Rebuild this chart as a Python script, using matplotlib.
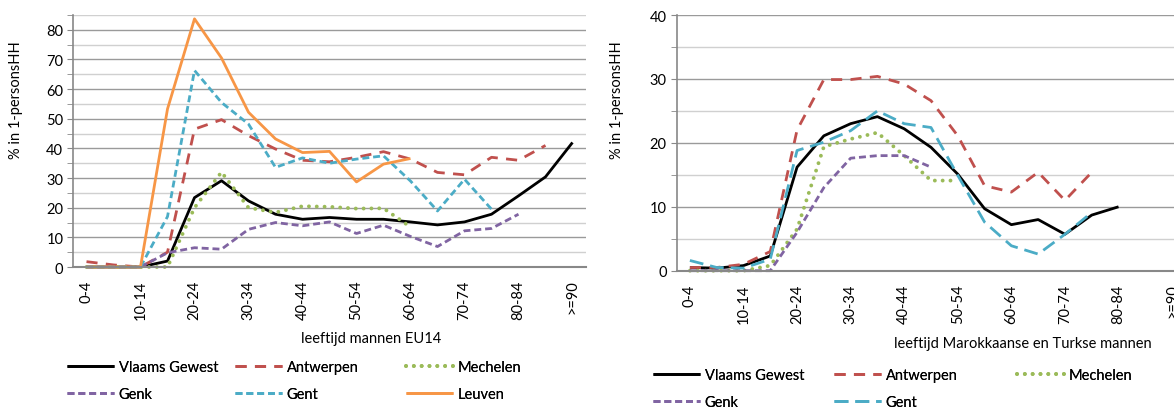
import numpy as np
import matplotlib
matplotlib.use('Agg')
import matplotlib.pyplot as plt
from matplotlib.ticker import MultipleLocator

plt.rcParams['font.family'] = ['Lato', 'DejaVu Sans']

nan = np.nan

AGE_GROUPS = ['0-4', '5-9', '10-14', '15-19', '20-24', '25-29', '30-34',
              '35-39', '40-44', '45-49', '50-54', '55-59', '60-64', '65-69',
              '70-74', '75-79', '80-84', '85-89', '>=90']

# left panel: men EU14
vlaams_eu = [0, 0, 0, 2, 23.4, 29.1, 22.3, 17.8, 16.1, 16.7, 16.1, 16.1, 15.2,
             14.2, 15.2, 17.8, 24, 30.4, 42]
antwerpen_eu = [1.8, 0.7, 0, 5, 46.5, 49.7, 44.3, 39.8, 36, 35.5, 37, 38.9,
                36.4, 31.9, 31.1, 37, 36, 41, nan]
mechelen_eu = [0, 0, 0, 0, 20, 32, 20, 18.4, 20.5, 20.3, 19.7, 19.8, 13.5,
               nan, nan, nan, nan, nan, nan]
genk_eu = [0, 0, 0, 4.8, 6.5, 6, 12.7, 15, 13.9, 15.2, 11.3, 14.1, 10.3, 6.9,
           12.2, 13, 17.8, nan, nan]
gent_eu = [0, 0, 0, 17, 66.3, 55.5, 48.2, 33.6, 36.8, 35, 36.4, 37.5, 29,
           18.9, 29.6, 19.5, nan, nan, nan]
leuven_eu = [0, 0, 0, 53.3, 83.7, 70.5, 52.2, 43.2, 38.6, 39, 28.7, 34.7, 36.6,
             nan, nan, nan, nan, nan, nan]

# right panel: Moroccan and Turkish men
vlaams_mt = [0.5, 0.4, 0.8, 2.3, 16.2, 21.1, 23, 24.1, 22.2, 19.3, 15.1, 9.7,
             7.2, 8, 5.7, 8.7, 10, nan, nan]
antwerpen_mt = [0.5, 0.5, 1, 3, 22, 29.9, 29.9, 30.4, 29.2, 26.6, 21.1, 13.3,
                12.3, 15.4, 11, 15.4, nan, nan, nan]
mechelen_mt = [0, 0, 0, 0.8, 6.5, 19.4, 20.6, 21.6, 18, 14.1, 14.1,
               nan, nan, nan, nan, nan, nan, nan, nan]
genk_mt = [0, 0, 0, 0, 6, 13, 17.6, 18, 18, 16.2,
           nan, nan, nan, nan, nan, nan, nan, nan, nan]
gent_mt = [1.6, 0.5, 0.4, 1.8, 18.8, 20.1, 21.9, 25, 23, 22.4, 14.9, 7.6, 3.9,
           2.6, 5.7, 9.1, nan, nan, nan]

BLACK = '#000000'
RED = '#C0504D'
GREEN = '#9BBB59'
PURPLE = '#8064A2'
BLUE = '#4BACC6'
ORANGE = '#F79646'

SOLID = (0, ())
LONG_DASH = (0, (4, 3))
LONGER_DASH = (0, (5, 2.5))
SHORT_DASH = (0, (2.5, 1.4))
ROUND_DOT = (0, (0.01, 2.0))

FS = 10.5
W, H = 1174, 414


def setup_axes(ax, ymax, ylabel_xy, xlabel, xlabel_xy):
    """
    Excel-like styling for one panel.
    """
    ax.set_xlim(-0.5, len(AGE_GROUPS) - 0.5)
    ax.set_ylim(0, ymax)
    ax.set_xticks(range(0, len(AGE_GROUPS), 2))
    ax.set_xticklabels(AGE_GROUPS[::2], rotation=90, fontsize=FS)
    ax.yaxis.set_major_locator(MultipleLocator(10))
    ax.yaxis.set_minor_locator(MultipleLocator(5))
    ax.tick_params(axis='y', labelsize=FS, length=4, color='#888888', pad=3)
    ax.tick_params(axis='y', which='minor', length=4, color='#888888')
    ax.tick_params(axis='x', length=0, pad=9)
    ax.grid(axis='y', which='major', color='#9a9a9a', lw=1.0)
    ax.grid(axis='y', which='minor', color='#d0d0d0', lw=1.0)
    ax.set_axisbelow(True)
    for s in ['top', 'right']:
        ax.spines[s].set_visible(False)
    ax.spines['left'].set_color('#888888')
    ax.spines['bottom'].set_color('#888888')
    ax.spines['left'].set_linewidth(1.2)
    ax.spines['bottom'].set_linewidth(1.5)
    ax.set_ylabel('% in 1-personsHH', fontsize=FS)
    ax.yaxis.set_label_coords(*ylabel_xy)
    ax.set_xlabel(xlabel, fontsize=FS)
    ax.xaxis.set_label_coords(*xlabel_xy)


def legend_columns(fig, columns, xs_px, ytop_px):
    """
    One legend per column so the columns sit at fixed positions like Excel.
    """
    for handles, x in zip(columns, xs_px):
        leg = fig.legend(handles=handles, loc='upper left',
                         bbox_to_anchor=(x / W, 1 - ytop_px / H),
                         frameon=False, fontsize=FS, borderpad=0,
                         borderaxespad=0, handlelength=3.25,
                         handletextpad=0.3, labelspacing=0.9)
        fig.add_artist(leg)


def plot_panel(ax, series):
    lines = {}
    for name, vals, color, ls in series:
        dotted = ls == ROUND_DOT
        ln, = ax.plot(range(len(AGE_GROUPS)), vals, color=color,
                      lw=2.8 if dotted else 2.0, linestyle=ls,
                      dash_capstyle='round' if dotted else 'butt',
                      label=name, clip_on=False)
        lines[name] = ln
    return lines


fig = plt.figure(figsize=(W / 100, H / 100), dpi=100)

ax1 = fig.add_axes([73 / W, (H - 268) / H, 513 / W, 252 / H])
left = plot_panel(ax1, [
    ('Vlaams Gewest', vlaams_eu, BLACK, SOLID),
    ('Antwerpen', antwerpen_eu, RED, LONG_DASH),
    ('Mechelen', mechelen_eu, GREEN, ROUND_DOT),
    ('Genk', genk_eu, PURPLE, SHORT_DASH),
    ('Gent', gent_eu, BLUE, SHORT_DASH),
    ('Leuven', leuven_eu, ORANGE, SOLID),
])
setup_axes(ax1, 85, (-0.097, 0.667), 'leeftijd mannen EU14', (0.582, -0.255))

ax2 = fig.add_axes([676.5 / W, (H - 271.7) / H, 509 / W, 255.7 / H])
right = plot_panel(ax2, [
    ('Vlaams Gewest', vlaams_mt, BLACK, SOLID),
    ('Antwerpen', antwerpen_mt, RED, LONG_DASH),
    ('Mechelen', mechelen_mt, GREEN, ROUND_DOT),
    ('Genk', genk_mt, PURPLE, SHORT_DASH),
    ('Gent', gent_mt, BLUE, LONGER_DASH),
])
setup_axes(ax2, 40, (-0.103, 0.671), 'leeftijd Marokkaanse en Turkse mannen',
           (0.681, -0.255))

legend_columns(fig,
               [[left['Vlaams Gewest'], left['Genk']],
                [left['Antwerpen'], left['Gent']],
                [left['Mechelen'], left['Leuven']]],
               [67, 235, 406], 361)
legend_columns(fig,
               [[right['Vlaams Gewest'], right['Genk']],
                [right['Antwerpen'], right['Gent']],
                [right['Mechelen']]],
               [653, 834, 1017], 369)

fig.savefig('out.png', dpi=100)
